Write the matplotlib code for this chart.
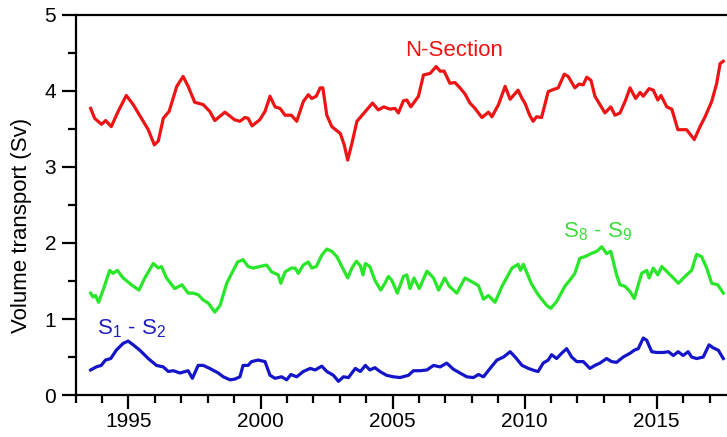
import matplotlib
matplotlib.use('Agg')
import matplotlib.pyplot as plt
from matplotlib.ticker import MultipleLocator

# ==== DATOS (año decimal, transporte en Sv) ====

# Sección norte
anios_n = [1993.57, 1993.72, 1993.98, 1994.14, 1994.35, 1994.61, 1994.92, 1995.18, 1995.37, 1995.75,
           1995.98, 1996.13, 1996.32, 1996.54, 1996.83, 1997.07, 1997.26, 1997.51, 1997.83, 1998.08,
           1998.27, 1998.65, 1999.02, 1999.22, 1999.41, 1999.53, 1999.68, 1999.97, 2000.17, 2000.36,
           2000.55, 2000.74, 2000.93, 2001.17, 2001.37, 2001.62, 2001.81, 2001.94, 2002.11, 2002.26,
           2002.36, 2002.51, 2002.70, 2003.02, 2003.17, 2003.30, 2003.46, 2003.65, 2003.97, 2004.24,
           2004.46, 2004.67, 2004.90, 2005.09, 2005.22, 2005.41, 2005.54, 2005.69, 2005.98, 2006.17,
           2006.42, 2006.65, 2006.80, 2006.95, 2007.17, 2007.36, 2007.55, 2007.74, 2007.93, 2008.12,
           2008.38, 2008.63, 2008.76, 2009.01, 2009.26, 2009.45, 2009.75, 2009.90, 2010.01, 2010.19,
           2010.32, 2010.45, 2010.64, 2010.89, 2011.02, 2011.27, 2011.50, 2011.65, 2011.90, 2012.06,
           2012.22, 2012.35, 2012.51, 2012.66, 2012.85, 2013.04, 2013.26, 2013.42, 2013.61, 2013.80,
           2013.99, 2014.20, 2014.37, 2014.49, 2014.71, 2014.87, 2015.04, 2015.16, 2015.38, 2015.57,
           2015.80, 2015.95, 2016.13, 2016.42, 2016.64, 2016.83, 2017.08, 2017.27, 2017.40, 2017.52]
transp_n = [3.77, 3.64, 3.56, 3.61, 3.53, 3.73, 3.94, 3.82, 3.71, 3.49,
            3.29, 3.34, 3.64, 3.73, 4.06, 4.19, 4.06, 3.85, 3.82, 3.73,
            3.61, 3.72, 3.62, 3.60, 3.65, 3.64, 3.54, 3.62, 3.73, 3.93,
            3.79, 3.77, 3.68, 3.68, 3.60, 3.86, 3.95, 3.90, 3.93, 4.04,
            4.04, 3.68, 3.53, 3.44, 3.29, 3.09, 3.31, 3.60, 3.73, 3.84,
            3.75, 3.79, 3.76, 3.77, 3.71, 3.87, 3.88, 3.79, 3.93, 4.21,
            4.23, 4.32, 4.26, 4.26, 4.10, 4.11, 4.04, 3.96, 3.84, 3.77,
            3.65, 3.72, 3.66, 3.82, 4.06, 3.89, 4.01, 3.90, 3.84, 3.68,
            3.60, 3.66, 3.65, 3.99, 4.01, 4.04, 4.22, 4.19, 4.04, 4.09,
            4.08, 4.18, 4.14, 3.93, 3.82, 3.71, 3.79, 3.68, 3.71, 3.86,
            4.04, 3.90, 3.98, 3.93, 4.03, 4.01, 3.88, 3.94, 3.79, 3.76,
            3.49, 3.49, 3.49, 3.36, 3.53, 3.66, 3.86, 4.10, 4.36, 4.39]

# Tramo S8 - S9
anios_89 = [1993.57, 1993.66, 1993.75, 1993.87, 1994.04, 1994.29, 1994.42, 1994.58, 1994.80, 1995.11,
            1995.40, 1995.62, 1995.94, 1996.13, 1996.25, 1996.44, 1996.75, 1997.03, 1997.26, 1997.45,
            1997.64, 1997.83, 1998.02, 1998.27, 1998.47, 1998.72, 1998.91, 1999.13, 1999.34, 1999.53,
            1999.72, 1999.97, 2000.23, 2000.42, 2000.67, 2000.77, 2000.93, 2001.17, 2001.31, 2001.43,
            2001.62, 2001.81, 2001.94, 2002.11, 2002.32, 2002.51, 2002.70, 2002.89, 2003.08, 2003.30,
            2003.46, 2003.63, 2003.78, 2003.88, 2003.97, 2004.14, 2004.33, 2004.55, 2004.71, 2004.84,
            2004.97, 2005.18, 2005.41, 2005.54, 2005.66, 2005.81, 2006.01, 2006.30, 2006.55, 2006.74,
            2006.97, 2007.15, 2007.43, 2007.74, 2008.00, 2008.25, 2008.44, 2008.63, 2008.88, 2009.14,
            2009.52, 2009.75, 2009.84, 2009.95, 2010.26, 2010.51, 2010.83, 2010.99, 2011.21, 2011.52,
            2011.71, 2011.90, 2012.09, 2012.28, 2012.51, 2012.73, 2012.92, 2013.10, 2013.26, 2013.48,
            2013.61, 2013.80, 2013.99, 2014.15, 2014.30, 2014.43, 2014.62, 2014.71, 2014.87, 2015.04,
            2015.19, 2015.34, 2015.57, 2015.82, 2016.07, 2016.32, 2016.51, 2016.70, 2016.89, 2017.08,
            2017.31, 2017.52]
transp_89 = [1.34, 1.29, 1.31, 1.22, 1.38, 1.64, 1.60, 1.64, 1.54, 1.45,
             1.38, 1.54, 1.73, 1.67, 1.69, 1.54, 1.40, 1.45, 1.34, 1.34,
             1.32, 1.25, 1.21, 1.09, 1.18, 1.47, 1.60, 1.75, 1.78, 1.69,
             1.67, 1.69, 1.71, 1.62, 1.58, 1.47, 1.62, 1.67, 1.67, 1.60,
             1.71, 1.75, 1.67, 1.69, 1.84, 1.92, 1.89, 1.82, 1.69, 1.54,
             1.67, 1.76, 1.70, 1.58, 1.73, 1.69, 1.51, 1.38, 1.47, 1.56,
             1.51, 1.34, 1.56, 1.58, 1.40, 1.54, 1.40, 1.63, 1.54, 1.38,
             1.54, 1.43, 1.34, 1.54, 1.49, 1.44, 1.26, 1.31, 1.22, 1.43,
             1.67, 1.72, 1.64, 1.72, 1.46, 1.32, 1.18, 1.14, 1.23, 1.43,
             1.51, 1.60, 1.80, 1.82, 1.86, 1.89, 1.95, 1.86, 1.89, 1.58,
             1.45, 1.43, 1.36, 1.27, 1.45, 1.60, 1.64, 1.54, 1.67, 1.58,
             1.69, 1.64, 1.56, 1.47, 1.56, 1.64, 1.85, 1.82, 1.67, 1.47,
             1.45, 1.34]

# Tramo S1 - S2
anios_12 = [1993.57, 1993.78, 1993.97, 1994.13, 1994.33, 1994.54, 1994.80, 1994.99, 1995.18, 1995.43,
            1995.75, 1996.06, 1996.32, 1996.51, 1996.70, 1996.95, 1997.26, 1997.42, 1997.64, 1997.83,
            1998.08, 1998.40, 1998.59, 1998.85, 1999.03, 1999.22, 1999.34, 1999.53, 1999.66, 1999.91,
            2000.17, 2000.36, 2000.55, 2000.80, 2000.99, 2001.15, 2001.37, 2001.62, 2001.88, 2002.07,
            2002.32, 2002.51, 2002.76, 2002.95, 2003.14, 2003.33, 2003.59, 2003.78, 2003.97, 2004.14,
            2004.33, 2004.52, 2004.77, 2005.03, 2005.28, 2005.60, 2005.79, 2006.04, 2006.30, 2006.55,
            2006.80, 2007.05, 2007.30, 2007.55, 2007.81, 2008.06, 2008.25, 2008.44, 2008.69, 2008.95,
            2009.20, 2009.45, 2009.64, 2009.90, 2010.14, 2010.39, 2010.51, 2010.70, 2010.89, 2011.02,
            2011.21, 2011.40, 2011.59, 2011.78, 2011.97, 2012.22, 2012.47, 2012.66, 2012.85, 2013.10,
            2013.29, 2013.48, 2013.73, 2013.99, 2014.15, 2014.30, 2014.49, 2014.62, 2014.81, 2015.00,
            2015.25, 2015.44, 2015.63, 2015.81, 2016.00, 2016.19, 2016.32, 2016.51, 2016.76, 2016.98,
            2017.14, 2017.33, 2017.52]
transp_12 = [0.33, 0.37, 0.39, 0.46, 0.48, 0.59, 0.68, 0.71, 0.66, 0.59,
             0.48, 0.39, 0.37, 0.31, 0.32, 0.29, 0.32, 0.22, 0.39, 0.39,
             0.35, 0.29, 0.24, 0.20, 0.21, 0.24, 0.39, 0.39, 0.44, 0.46,
             0.44, 0.26, 0.22, 0.24, 0.20, 0.27, 0.24, 0.31, 0.35, 0.33,
             0.38, 0.31, 0.26, 0.18, 0.24, 0.23, 0.35, 0.31, 0.39, 0.33,
             0.36, 0.31, 0.26, 0.24, 0.23, 0.26, 0.32, 0.32, 0.33, 0.39,
             0.37, 0.42, 0.34, 0.29, 0.24, 0.23, 0.27, 0.24, 0.35, 0.46,
             0.50, 0.57, 0.50, 0.39, 0.35, 0.32, 0.31, 0.42, 0.46, 0.53,
             0.48, 0.55, 0.61, 0.50, 0.44, 0.44, 0.35, 0.39, 0.42, 0.48,
             0.44, 0.43, 0.50, 0.55, 0.59, 0.61, 0.75, 0.72, 0.57, 0.56,
             0.56, 0.57, 0.52, 0.57, 0.52, 0.57, 0.50, 0.48, 0.50, 0.66,
             0.62, 0.59, 0.48]

# Colores por sección
COLOR_N = '#ee1414'
COLOR_89 = '#28e628'
COLOR_12 = '#1414c8'

plt.rcParams['font.family'] = ['Liberation Sans', 'DejaVu Sans']
plt.rcParams['mathtext.default'] = 'regular'


def main():
    fig = plt.figure(figsize=(7.27, 4.37), dpi=100)
    ax = fig.add_axes([0.104, 0.096, 0.896, 0.870])

    ax.plot(anios_n, transp_n, color=COLOR_N, lw=2.3)
    ax.plot(anios_89, transp_89, color=COLOR_89, lw=2.3)
    ax.plot(anios_12, transp_12, color=COLOR_12, lw=2.3)

    # Etiquetas de cada tramo
    ax.text(2007.32, 4.46, 'N-Section', color=COLOR_N, fontsize=16, ha='center', va='baseline')
    ax.text(2012.74, 2.07, 'S$_8$ - S$_9$', color='#3cdc3c', fontsize=16, ha='center', va='baseline')
    ax.text(1995.1, 0.80, 'S$_1$ - S$_2$', color='#2020c0', fontsize=16, ha='center', va='baseline')

    ax.set_xlim(1993, 2017.66)
    ax.set_ylim(0, 5)
    ax.xaxis.set_major_locator(MultipleLocator(5))
    ax.xaxis.set_minor_locator(MultipleLocator(1))
    ax.yaxis.set_major_locator(MultipleLocator(1))
    ax.yaxis.set_minor_locator(MultipleLocator(0.5))

    ax.spines['right'].set_visible(False)
    for lado in ['left', 'bottom', 'top']:
        ax.spines[lado].set_linewidth(1.6)

    ax.tick_params(which='major', direction='out', length=10, width=1.6, labelsize=15)
    ax.tick_params(which='minor', direction='out', length=6, width=1.6)
    ax.tick_params(axis='y', which='major', pad=4)
    ax.tick_params(axis='x', which='major', pad=2)
    ax.tick_params(top=False, which='both')

    fig.text(0.030, 0.483, 'Volume transport (Sv)', rotation=90, fontsize=16,
             ha='center', va='center')

    fig.savefig('out.png', dpi=100)
    plt.close(fig)


if __name__ == "__main__":
    main()
